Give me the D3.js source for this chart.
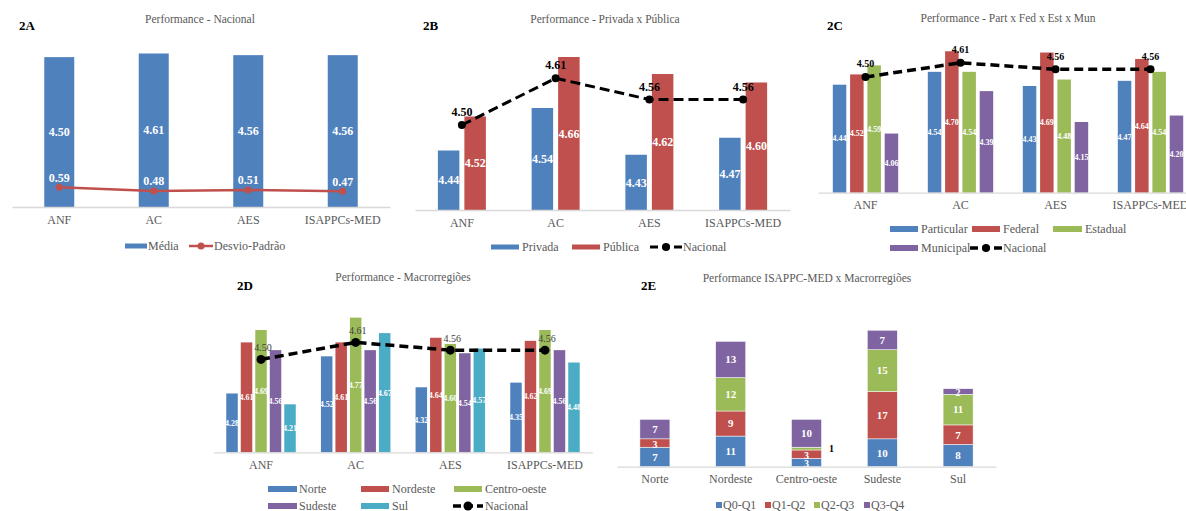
<!DOCTYPE html>
<html><head><meta charset="utf-8">
<script src="https://cdn.jsdelivr.net/npm/d3@7"></script>
<style>
html,body{margin:0;padding:0;background:#fff;}
svg text{font-family:'Liberation Serif','Tinos','DejaVu Serif','Noto Serif','Times New Roman',serif;}
</style></head>
<body><svg id="c" width="1186" height="511"></svg>
<script>
// ---------- DATA ----------
const categories = ["ANF","AC","AES","ISAPPCs-MED"];
const mediaNacional = [4.50,4.61,4.56,4.56];
const desvioPadrao = [0.59,0.48,0.51,0.47];
const privada = [4.44,4.54,4.43,4.47];
const publica = [4.52,4.66,4.62,4.60];
const particular = [4.44,4.54,4.43,4.47];
const federal = [4.52,4.70,4.69,4.64];
const estadual = [4.59,4.54,4.48,4.54];
const municipal = [4.06,4.39,4.15,4.20];
const norte = [4.28,4.52,4.32,4.35];
const nordeste = [4.61,4.61,4.64,4.62];
const centroOeste = [4.69,4.77,4.60,4.69];
const sudeste = [4.56,4.56,4.54,4.56];
const sul = [4.21,4.67,4.57,4.48];
const regioes = ["Norte","Nordeste","Centro-oeste","Sudeste","Sul"];
const quartis = ["Q0-Q1","Q1-Q2","Q2-Q3","Q3-Q4"];
const q0q1 = [7,11,3,10,8];
const q1q2 = [3,9,3,17,7];
const q2q3 = [0,12,1,15,11];
const q3q4 = [7,13,10,7,2];

// ---------- STYLE ----------
const FONT = "'Liberation Serif','Tinos','DejaVu Serif','Noto Serif','Times New Roman',serif";
const C = {blue:"#4F81BD", red:"#C0504D", green:"#9BBB59", purple:"#8064A2", cyan:"#4BACC6"};
const gray = "#595959", axisCol = "#d9d9d9";
const svg = d3.select("#c").attr("font-family",FONT);

function T(sel){ return sel.append("text").attr("font-family",FONT); }

function header(tag, tx, ty, title, cx, cy){
  T(svg).attr("x",tx).attr("y",ty).attr("dy","0.35em")
    .attr("font-size",13).attr("font-weight","bold").attr("fill","#000").text(tag);
  T(svg).attr("x",cx).attr("y",cy).attr("dy","0.35em").attr("text-anchor","middle")
    .attr("font-size",11.5).attr("fill",gray).text(title);
}

function xAxis(x, base){
  const g = svg.append("g").attr("transform",`translate(0,${base})`)
    .call(d3.axisBottom(x).tickSizeInner(0).tickSizeOuter(0).tickPadding(8));
  g.attr("font-family",FONT);
  g.select(".domain").attr("stroke",axisCol).attr("stroke-width",1.3);
  g.selectAll("text").attr("font-size",12).attr("fill",gray).attr("font-family",FONT);
}

function legend(items){
  items.forEach(it=>{
    if(it.type==="rect"){
      svg.append("rect").attr("x",it.x).attr("y",it.y-it.h/2).attr("width",it.w).attr("height",it.h).attr("fill",it.color);
    } else if(it.type==="line"){
      svg.append("line").attr("x1",it.x).attr("x2",it.x2).attr("y1",it.y).attr("y2",it.y)
        .attr("stroke",it.color).attr("stroke-width",it.sw).attr("stroke-dasharray",it.dash||null);
      svg.append("circle").attr("cx",(it.x+it.x2)/2).attr("cy",it.y).attr("r",it.r).attr("fill",it.color);
    }
    T(svg).attr("x",it.tx).attr("y",it.y).attr("dy","0.35em")
      .attr("font-size",12).attr("fill",gray).text(it.label);
  });
}

function groupedPanel(cfg){
  const x = d3.scaleBand().domain(categories).range([cfg.x0,cfg.x1]).padding(0);
  const y = d3.scaleLinear().domain(cfg.domain).range([cfg.base,cfg.top]);
  const n = cfg.series.length;
  const gw = n*cfg.bw + (n-1)*cfg.gap;
  const inner = d3.scaleBand().domain(d3.range(n)).range([-gw/2,gw/2]).paddingInner(cfg.gap/(cfg.bw+cfg.gap)).paddingOuter(0);
  const cx = c => x(c)+x.bandwidth()/2;
  cfg.series.forEach((s,si)=>{
    const g = svg.append("g");
    g.selectAll("rect").data(s.values).join("rect")
      .attr("x",(d,i)=>cx(categories[i])+inner(si))
      .attr("width",inner.bandwidth())
      .attr("y",d=>y(d)).attr("height",d=>cfg.base-y(d))
      .attr("fill",s.color);
    g.selectAll("text").data(s.values).join("text").attr("font-family",FONT)
      .attr("x",(d,i)=>cx(categories[i])+inner(si)+inner.bandwidth()/2)
      .attr("y",d=>(y(d)+cfg.base)/2).attr("dy","0.35em").attr("text-anchor","middle")
      .attr("font-size",cfg.labelSize).attr("font-weight","bold").attr("fill","#fff")
      .text(d=>d.toFixed(2));
  });
  xAxis(x, cfg.base);
  if(cfg.line){
    const L = cfg.line;
    const line = d3.line().x((d,i)=>cx(categories[i])).y(d=>y(d));
    svg.append("path").datum(L.values).attr("d",line).attr("fill","none")
      .attr("stroke",L.color).attr("stroke-width",L.sw).attr("stroke-dasharray",L.dash||null);
    svg.append("g").selectAll("circle").data(L.values).join("circle")
      .attr("cx",(d,i)=>cx(categories[i])).attr("cy",d=>y(d)).attr("r",L.r).attr("fill",L.color);
    svg.append("g").selectAll("text").data(L.values).join("text").attr("font-family",FONT)
      .attr("x",(d,i)=>cx(categories[i])+(L.dx||0)).attr("y",d=>y(d)-L.off).attr("dy","0.35em")
      .attr("text-anchor","middle").attr("font-size",L.size).attr("font-weight",L.weight)
      .attr("fill",L.labelColor).text(d=>d.toFixed(2));
  }
}

// ---------- 2A ----------
header("2A",19,25,"Performance - Nacional",200,19);
groupedPanel({x0:12,x1:390,base:207,top:40.5,domain:[0,5],bw:30,gap:0,labelSize:12,
  series:[{values:mediaNacional,color:C.blue}],
  line:{values:desvioPadrao,color:C.red,sw:2.5,r:3.5,off:10,size:12,weight:"bold",labelColor:"#fff"}});
legend([
  {type:"rect",x:125,y:246,w:22,h:5,color:C.blue,tx:148,label:"Média"},
  {type:"line",x:189,x2:213,y:246,sw:2.5,r:3.5,color:C.red,tx:214,label:"Desvio-Padrão"}
]);

// ---------- 2B ----------
header("2B",423,25,"Performance - Privada x Pública",605,19);
groupedPanel({x0:415,x1:790,base:210,top:40,domain:[4.3,4.7],bw:21.5,gap:5,labelSize:12,
  series:[{values:privada,color:C.blue},{values:publica,color:C.red}],
  line:{values:mediaNacional,color:"#000",sw:3,dash:"10,5",r:4,off:13,size:12,weight:"bold",labelColor:"#000"}});
legend([
  {type:"rect",x:491,y:247,w:28,h:5,color:C.blue,tx:522,label:"Privada"},
  {type:"rect",x:572,y:247,w:28,h:5,color:C.red,tx:603,label:"Pública"},
  {type:"line",x:650,x2:682,y:247,sw:3,dash:"8,4",r:4,color:"#000",tx:683,label:"Nacional"}
]);

// ---------- 2C ----------
header("2C",827,25,"Performance - Part x Fed x Est x Mun",1008,18);
groupedPanel({x0:818,x1:1198,base:192.7,top:38.4,domain:[3.6,4.8],bw:13.5,gap:3.8,labelSize:8,
  series:[{values:particular,color:C.blue},{values:federal,color:C.red},{values:estadual,color:C.green},{values:municipal,color:C.purple}],
  line:{values:mediaNacional,color:"#000",sw:3.5,dash:"9,5",r:4,off:13,size:10,weight:"bold",labelColor:"#000"}});
legend([
  {type:"rect",x:890,y:229,w:28,h:6,color:C.blue,tx:921,label:"Particular"},
  {type:"rect",x:972,y:229,w:28,h:6,color:C.red,tx:1003,label:"Federal"},
  {type:"rect",x:1053,y:229,w:29,h:6,color:C.green,tx:1085,label:"Estadual"},
  {type:"rect",x:890,y:248,w:28,h:6,color:C.purple,tx:921,label:"Municipal"},
  {type:"line",x:970,x2:1002,y:248,sw:3.5,dash:"8,4",r:4,color:"#000",tx:1003,label:"Nacional"}
]);

// ---------- 2D ----------
header("2D",237,285,"Performance - Macrorregiões",403,277);
groupedPanel({x0:213.7,x1:592.3,base:452.3,top:297.5,domain:[3.9,4.9],bw:11.5,gap:3,labelSize:8,
  series:[{values:norte,color:C.blue},{values:nordeste,color:C.red},{values:centroOeste,color:C.green},{values:sudeste,color:C.purple},{values:sul,color:C.cyan}],
  line:{values:mediaNacional,color:"#000",sw:3.5,dash:"9,5",r:4.5,off:12,dx:2,size:10,weight:"normal",labelColor:"#404040"}});
legend([
  {type:"rect",x:268,y:489,w:29,h:6,color:C.blue,tx:299,label:"Norte"},
  {type:"rect",x:361,y:489,w:28,h:6,color:C.red,tx:392,label:"Nordeste"},
  {type:"rect",x:454,y:489,w:28,h:6,color:C.green,tx:485,label:"Centro-oeste"},
  {type:"rect",x:268,y:506,w:29,h:6,color:C.purple,tx:299,label:"Sudeste"},
  {type:"rect",x:361,y:506,w:28,h:6,color:C.cyan,tx:392,label:"Sul"},
  {type:"line",x:453,x2:483,y:506,sw:3.5,dash:"8,4",r:4.5,color:"#000",tx:485,label:"Nacional"}
]);

// ---------- 2E ----------
header("2E",641,285,"Performance ISAPPC-MED x Macrorregiões",807,278);
(function(){
  const base = 466.7;
  const x = d3.scaleBand().domain(regioes).range([617,996]).padding(0);
  const y = d3.scaleLinear().domain([0,60]).range([base,299.6]);
  const rows = regioes.map((r,i)=>({regiao:r,"Q0-Q1":q0q1[i],"Q1-Q2":q1q2[i],"Q2-Q3":q2q3[i],"Q3-Q4":q3q4[i]}));
  const stack = d3.stack().keys(quartis)(rows);
  const cols = [C.blue,C.red,C.green,C.purple];
  const bw = 30;
  stack.forEach((layer,li)=>{
    const g = svg.append("g");
    g.selectAll("rect").data(layer).join("rect")
      .attr("x",d=>x(d.data.regiao)+x.bandwidth()/2-bw/2).attr("width",bw)
      .attr("y",d=>y(d[1])).attr("height",d=>y(d[0])-y(d[1]))
      .attr("fill",cols[li]).attr("stroke","#fff").attr("stroke-width",0.5);
    g.selectAll("text").data(layer.filter(d=>d[1]-d[0]>0)).join("text").attr("font-family",FONT)
      .attr("x",d=>{const v=d[1]-d[0]; return x(d.data.regiao)+x.bandwidth()/2+(v<2?bw/2+10:0);})
      .attr("y",d=>{const v=d[1]-d[0]; return v<2 ? y(d[1])+1 : (y(d[0])+y(d[1]))/2 + (v<4?1:0);})
      .attr("dy","0.35em").attr("text-anchor","middle")
      .attr("font-size",d=>(d[1]-d[0])<4?10:11).attr("font-weight","bold")
      .attr("fill",d=>(d[1]-d[0])<2?"#000":"#fff")
      .text(d=>d[1]-d[0]);
  });
  xAxis(x, base);
  const lx=[716,765,814,864];
  quartis.forEach((q,i)=>{
    svg.append("rect").attr("x",lx[i]).attr("y",502).attr("width",6).attr("height",6).attr("fill",cols[i]);
    T(svg).attr("x",lx[i]+7).attr("y",505).attr("dy","0.35em").attr("font-size",12).attr("fill",gray).text(q);
  });
})();
</script></body></html>
